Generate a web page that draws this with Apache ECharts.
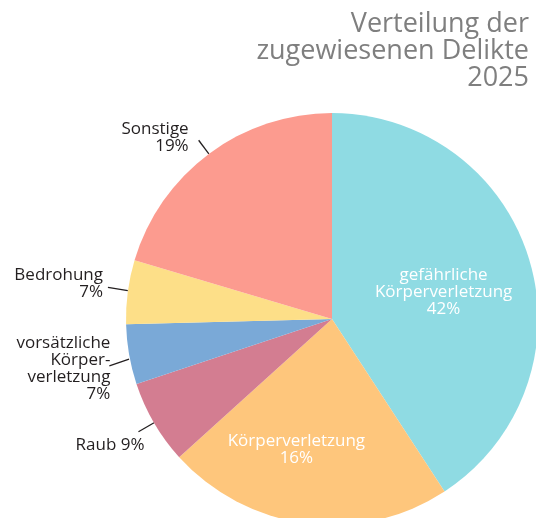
<!DOCTYPE html>
<html>
<head>
    <meta charset="utf-8">
    <title>Verteilung der zugewiesenen Delikte 2025</title>
    <script src="https://cdn.jsdelivr.net/npm/echarts@6/dist/echarts.min.js"></script>
    <style>
        html, body {margin:0;padding:0;background:#fff;}
        #chart {width:536px;height:518px;}
    </style>
</head>
<body>
<div id="chart"></div>
<script>
    // Daten (Winkel, Prozenttexte wie beschriftet)
    var categories = ['gefährliche\nKörperverletzung', 'Körperverletzung', 'Raub', 'vorsätzliche\nKörper-\nverletzung', 'Bedrohung', 'Sonstige'];
    var values = [40.8, 22.5, 6.6, 4.7, 5.0, 20.4];
    var pctLabels = ['42%', '16%', '9%', '7%', '7%', '19%'];
    var colors = ['#8fdbe3', '#fec67c', '#d37d91', '#7aa9d7', '#fddf88', '#fc9b8f'];

    // Feinjustierung der Beschriftungen: [Linienlaenge, Abstand, dy, Linie dy]
    var labelTweaks = [
        null,
        null,
        [18, -6, 13, 0],
        [20, -1, 11, 8],
        [20, 5, -6, -2],
        [17, 10, -3, 0]
    ];
    var insideOffsets = [[10, 3], [-22, 26]];

    var myChart = echarts.init(document.getElementById('chart'));

    var data = categories.map(function (name, i) {
        var item = {value: values[i], name: name, itemStyle: {color: colors[i]}};
        var t = labelTweaks[i];
        if (!t) {
            item.label = {
                position: 'inside',
                color: '#fff',
                align: 'center',
                offset: insideOffsets[i]
            };
            item.labelLine = {show: false};
        } else {
            item.label = {distanceToLabelLine: t[1]};
            item.labelLine = {length: t[0]};
        }
        return item;
    });

    myChart.setOption({
        animation: false,
        title: {
            text: 'Verteilung der\nzugewiesenen Delikte\n2025',
            left: 529,
            top: 11,
            padding: 0,
            textAlign: 'right',
            textStyle: {
                color: '#7f7f7f',
                fontFamily: 'Open Sans',
                fontWeight: 'normal',
                fontSize: 27,
                lineHeight: 27
            }
        },
        series: [
            {
                name: 'Delikte',
                type: 'pie',
                center: [332, 319],
                radius: 206,
                startAngle: 90,
                clockwise: true,
                avoidLabelOverlap: false,
                data: data,
                label: {
                    show: true,
                    position: 'outside',
                    fontFamily: 'Open Sans',
                    fontSize: 17,
                    lineHeight: 17,
                    color: '#231f20',
                    align: 'right',
                    formatter: function (p) {
                        var sep = p.name === 'Raub' ? ' ' : '\n';
                        return p.name + sep + pctLabels[p.dataIndex];
                    }
                },
                labelLine: {
                    show: true,
                    length: 16,
                    length2: 0,
                    lineStyle: {color: '#231f20', width: 1.3}
                },
                labelLayout: function (p) {
                    var t = labelTweaks[p.dataIndex];
                    if (!t) {
                        return {};
                    }
                    var pts = (p.labelLinePoints || []).map(function (pt, k) {
                        return [pt[0], pt[1] + (k === 0 ? t[3] * 0.6 : t[3])];
                    });
                    return {dy: t[2], labelLinePoints: pts};
                }
            }
        ]
    });
</script>
</body>
</html>
